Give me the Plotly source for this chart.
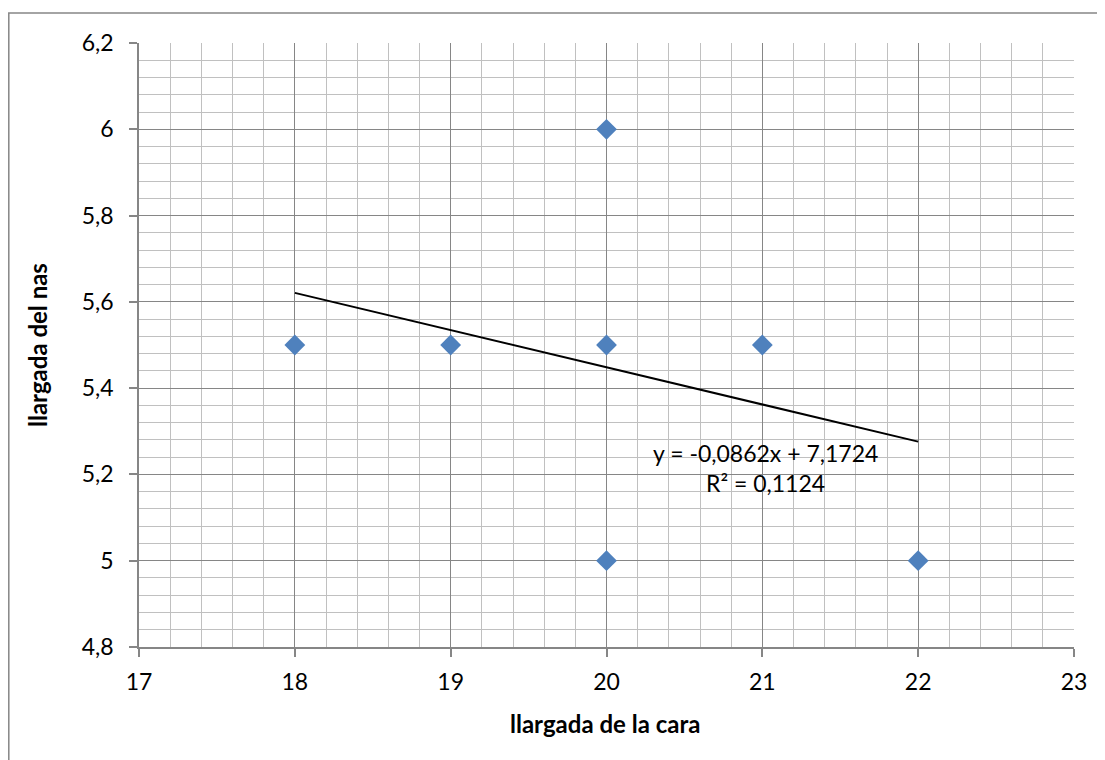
import numpy as np
import plotly.graph_objects as go

# Data
x_cara = [18, 19, 20, 20, 20, 21, 22]
y_nas = [5.5, 5.5, 5.5, 6.0, 5.0, 5.5, 5.0]
trend_slope = -0.0862
trend_intercept = 7.1724
trend_r2 = 0.1124
trend_x = [18, 22]
trend_y = [trend_slope * v + trend_intercept for v in trend_x]

x_ticks = [17, 18, 19, 20, 21, 22, 23]
y_ticks = [4.8, 5.0, 5.2, 5.4, 5.6, 5.8, 6.0, 6.2]
y_ticklabels = ["4,8", "5", "5,2", "5,4", "5,6", "5,8", "6", "6,2"]

FONT = "Lato"
OFF = 8  # page body margin
W, H = 1105 - OFF, 760 - OFF
# plot area in page pixels: x 139..1074, y 43..647
L, T = 139 - OFF, 43 - OFF
R = W - (1074 - OFF)
B = H - (647 - OFF)
PW, PH = W - L - R, H - T - B

def px(xp):
    return (xp - OFF - L) / PW

def py(yp):
    return (H - B - (yp - OFF)) / PH

fig = go.Figure()
fig.add_trace(go.Scatter(
    x=trend_x, y=trend_y, mode="lines",
    line=dict(color="black", width=2), showlegend=False, hoverinfo="skip"))
fig.add_trace(go.Scatter(
    x=x_cara, y=y_nas, mode="markers",
    marker=dict(symbol="diamond", size=16, color="#4f81bd",
                line=dict(width=0)), showlegend=False))

major = "#868686"
minor = "#c0c0c0"
fig.update_xaxes(
    range=[17, 23], tickvals=x_ticks, ticks="outside", ticklen=8,
    tickcolor=major, tickwidth=1.5, showline=True, linecolor=major, linewidth=1.5,
    showgrid=True, gridcolor=major, gridwidth=1, zeroline=False,
    minor=dict(dtick=0.2, showgrid=True, gridcolor=minor, gridwidth=1),
    tickfont=dict(family=FONT, size=23, color="black"), ticklabelstandoff=6)
fig.update_yaxes(
    range=[4.8, 6.2], tickvals=y_ticks, ticktext=y_ticklabels, ticks="outside", ticklen=8,
    tickcolor=major, tickwidth=1.5, showline=True, linecolor=major, linewidth=1.5,
    showgrid=True, gridcolor=major, gridwidth=1, zeroline=False,
    minor=dict(dtick=0.04, tick0=4.8, showgrid=True, gridcolor=minor, gridwidth=1),
    tickfont=dict(family=FONT, size=23, color="black"), ticklabelstandoff=11)

fig.add_annotation(x=21.02, y=5.25, xref="x", yref="y",
                   text="y = -0,0862x + 7,1724", showarrow=False,
                   xanchor="center", yanchor="middle",
                   font=dict(family=FONT, size=23, color="black"))
fig.add_annotation(x=21.02, y=5.18, xref="x", yref="y",
                   text="R² = 0,1124", showarrow=False,
                   xanchor="center", yanchor="middle",
                   font=dict(family=FONT, size=23, color="black"))

fig.add_annotation(x=px(605), y=py(723), xref="paper", yref="paper",
                   text="<b>llargada de la cara</b>", showarrow=False,
                   xanchor="center", yanchor="middle",
                   font=dict(family=FONT, size=24, color="black"))
fig.add_annotation(x=px(37), y=py(345), xref="paper", yref="paper",
                   text="<b>llargada del nas</b>", showarrow=False, textangle=-90,
                   xanchor="center", yanchor="middle",
                   font=dict(family=FONT, size=24, color="black"))

fig.add_shape(type="rect", xref="paper", yref="paper",
              x0=px(8.8), x1=px(1120), y0=py(780), y1=py(13),
              line=dict(color="#868686", width=1.5), layer="below")

fig.update_layout(
    width=W, height=H, margin=dict(l=L, r=R, t=T, b=B),
    paper_bgcolor="white", plot_bgcolor="white",
    separators=", ", font=dict(family=FONT))

fig.write_html("out.html")
